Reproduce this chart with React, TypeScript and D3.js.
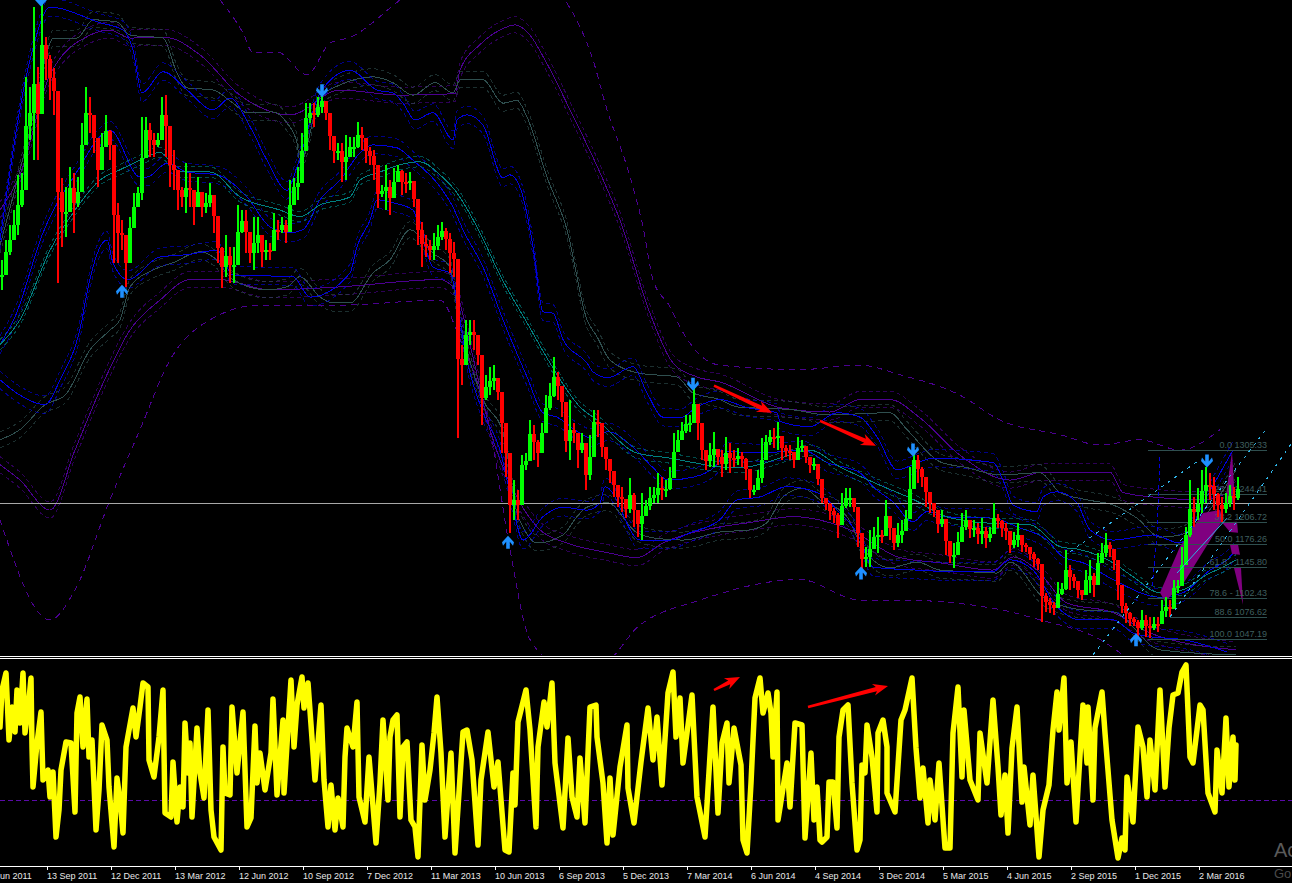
import * as d3 from 'd3';

const WIDTH = 1292;
const HEIGHT = 883;

// one candle per 4 bars, prices
const candleStep = 4;
const candleHigh = [
  1565,1592,1613,1633,1681,1684,1815,1801,1910,1828,1920,1869,1845,1827,1783,1677,1665,1692,1684,1678,
  1752,1801,1788,1752,1711,1738,1763,1742,1692,1643,1619,1592,1624,1656,1665,1760,1760,1752,1738,1738,
  1788,1790,1725,1715,1688,1665,1697,1684,1660,1678,1651,1656,1670,1647,1602,1583,1599,1583,1583,1640,
  1633,1633,1588,1624,1624,1596,1592,1588,1629,1619,1624,1619,1674,1677,1692,1738,1779,1779,1779,1788,
  1797,1774,1752,1729,1725,1725,1736,1733,1733,1753,1747,1729,1719,1715,1674,1667,1695,1674,1691,1695,
  1688,1684,1685,1660,1626,1617,1599,1592,1602,1613,1617,1609,1602,1589,1538,1449,1483,1483,1483,1449,
  1412,1408,1419,1421,1394,1383,1333,1268,1264,1251,1298,1301,1346,1339,1319,1342,1380,1397,1432,1412,
  1391,1333,1374,1342,1328,1328,1292,1326,1360,1360,1323,1309,1292,1274,1255,1255,1237,1267,1247,1223,
  1247,1237,1255,1255,1274,1268,1264,1282,1328,1333,1344,1353,1353,1391,1364,1319,1301,1315,1330,1305,
  1305,1323,1315,1305,1308,1303,1294,1260,1257,1278,1322,1326,1333,1335,1344,1323,1312,1312,1303,1323,
  1319,1303,1294,1294,1274,1247,1240,1233,1226,1219,1247,1253,1253,1234,1210,1176,1173,1196,1200,1214,
  1196,1237,1214,1186,1206,1210,1223,1282,1305,1298,1282,1268,1247,1233,1217,1223,1200,1169,1178,1193,
  1219,1223,1210,1210,1206,1212,1200,1200,1233,1217,1210,1206,1186,1193,1206,1185,1178,1171,1166,1158,
  1141,1110,1103,1098,1125,1124,1169,1148,1135,1125,1114,1141,1155,1137,1165,1178,1192,1180,1169,1141,
  1100,1096,1084,1077,1073,1087,1080,1077,1077,1077,1100,1104,1100,1128,1128,1173,1200,1264,1241,1253,
  1278,1282,1274,1268,1247,1241,1247,1257,1255,1268,
];
const candleLow = [
  1524,1558,1572,1592,1599,1637,1681,1729,1701,1701,1797,1811,1783,1763,1533,1583,1596,1633,1602,1637,
  1692,1729,1738,1711,1665,1701,1719,1701,1561,1561,1578,1528,1592,1619,1647,1647,1725,1706,1706,1719,
  1738,1706,1665,1660,1633,1637,1629,1637,1613,1637,1624,1629,1637,1602,1561,1527,1542,1533,1533,1565,
  1602,1574,1561,1551,1574,1555,1565,1565,1583,1592,1602,1588,1606,1651,1647,1688,1738,1752,1747,1760,
  1766,1756,1715,1697,1701,1671,1674,1706,1706,1718,1715,1697,1695,1674,1636,1651,1633,1626,1651,1678,
  1654,1656,1660,1637,1585,1555,1569,1565,1565,1578,1592,1578,1547,1542,1322,1394,1442,1449,1442,1421,
  1339,1374,1380,1387,1374,1301,1268,1192,1210,1210,1271,1278,1309,1292,1282,1316,1346,1360,1378,1374,
  1350,1303,1292,1315,1281,1301,1251,1264,1326,1323,1296,1278,1260,1241,1227,1221,1212,1219,1200,1186,
  1182,1219,1223,1233,1233,1237,1241,1251,1278,1305,1319,1328,1330,1346,1319,1292,1278,1282,1282,1285,
  1268,1278,1274,1282,1285,1282,1264,1240,1244,1255,1260,1305,1312,1308,1305,1292,1296,1292,1281,1292,
  1303,1288,1274,1278,1257,1233,1223,1210,1206,1185,1210,1226,1227,1221,1173,1137,1145,1145,1173,1165,
  1178,1192,1182,1169,1173,1178,1200,1223,1278,1260,1255,1227,1219,1214,1192,1200,1162,1151,1144,1166,
  1180,1196,1185,1186,1176,1176,1171,1180,1192,1199,1186,1182,1165,1171,1173,1166,1166,1155,1145,1141,
  1070,1084,1083,1080,1091,1107,1114,1114,1117,1103,1100,1114,1110,1104,1137,1151,1159,1159,1141,1100,
  1083,1069,1064,1064,1050,1059,1050,1048,1059,1057,1069,1077,1077,1104,1110,1124,1178,1186,1200,1210,
  1219,1233,1237,1223,1214,1207,1219,1227,1223,1237,
];

// envelope lines, [bar, price]
const midTeal = [[0,1449],[20,1483],[50,1578],[75,1633],[100,1674],[120,1688],[140,1701],[160,1712],[180,1685],[210,1685],[240,1651],[280,1633],[300,1624],[320,1640],[350,1651],[360,1674],[380,1685],[400,1695],[420,1699],[440,1681],[455,1660],[480,1602],[500,1544],[527,1479],[550,1424],[580,1364],[597,1346],[637,1301],[670,1294],[693,1288],[720,1282],[740,1281],[790,1298],[810,1305],[840,1282],[880,1257],[920,1233],[940,1217],[980,1206],[1030,1203],[1060,1173],[1080,1169],[1113,1151],[1133,1132],[1160,1110],[1183,1114],[1207,1135],[1223,1145],[1236,1155]];
const upperPurple = [[0,1633],[20,1681],[50,1818],[90,1872],[110,1879],[130,1868],[165,1869],[200,1845],[240,1790],[290,1763],[340,1797],[400,1790],[455,1792],[460,1824],[480,1859],[500,1879],[515,1886],[530,1872],[545,1838],[570,1770],[600,1684],[620,1619],[650,1492],[673,1424],[697,1405],[720,1398],[780,1363],[830,1357],[860,1374],[890,1374],[920,1349],[960,1298],[1010,1264],[1043,1275],[1110,1275],[1123,1247],[1160,1240],[1200,1237],[1236,1251]];
const upperBlue = [[0,1592],[30,1838],[50,1910],[100,1889],[123,1879],[133,1852],[142,1793],[163,1822],[187,1797],[213,1770],[230,1786],[250,1747],[267,1701],[287,1660],[297,1692],[320,1793],[350,1824],[377,1797],[393,1793],[403,1779],[415,1756],[433,1766],[453,1729],[457,1756],[467,1763],[483,1749],[503,1677],[510,1681],[522,1656],[533,1583],[543,1494],[553,1492],[563,1456],[587,1424],[593,1412],[608,1404],[633,1419],[647,1383],[663,1350],[680,1349],[697,1364],[720,1374],[747,1363],[777,1356],[780,1344],[810,1337],[837,1356],[860,1350],[877,1323],[897,1278],[920,1289],[933,1294],[993,1288],[1003,1264],[1013,1230],[1037,1221],[1043,1241],[1057,1248],[1077,1233],[1090,1196],[1113,1182],[1153,1189],[1180,1178],[1205,1237],[1233,1305]];
const midBlue = [[0,1449],[15,1487],[43,1602],[80,1692],[97,1729],[110,1742],[140,1678],[147,1678],[167,1697],[187,1685],[217,1681],[247,1651],[270,1610],[290,1602],[303,1606],[320,1647],[340,1674],[360,1711],[373,1722],[397,1718],[413,1701],[437,1670],[453,1637],[463,1606],[483,1555],[503,1483],[527,1405],[543,1356],[557,1350],[580,1328],[590,1322],[608,1330],[633,1309],[653,1281],[668,1264],[693,1268],[717,1285],[727,1303],[760,1301],[803,1305],[827,1288],[860,1274],[873,1255],[893,1234],[913,1207],[927,1221],[943,1214],[993,1212],[1017,1200],[1047,1182],[1063,1159],[1083,1151],[1113,1128],[1160,1104],[1183,1110],[1210,1141],[1227,1155],[1236,1169]];
const lowBlue = [[0,1401],[20,1380],[45,1367],[60,1401],[82,1483],[87,1520],[107,1592],[113,1561],[128,1538],[160,1569],[187,1572],[217,1578],[233,1544],[293,1542],[310,1514],[350,1547],[357,1583],[370,1619],[377,1647],[393,1643],[413,1633],[420,1606],[433,1555],[450,1547],[457,1510],[463,1456],[483,1356],[500,1305],[510,1247],[523,1182],[543,1214],[563,1227],[587,1223],[600,1233],[605,1255],[640,1182],[670,1182],[690,1192],[720,1210],[737,1237],[760,1241],[787,1255],[817,1247],[840,1219],[857,1192],[873,1145],[917,1141],[950,1139],[993,1139],[1010,1155],[1033,1141],[1057,1091],[1080,1073],[1113,1073],[1133,1055],[1150,1050],[1183,1046],[1227,1029]];
const upperGrey = [[0,1585],[30,1742],[50,1861],[53,1868],[77,1868],[93,1893],[117,1890],[130,1872],[163,1868],[177,1820],[187,1800],[213,1797],[233,1779],[247,1766],[273,1767],[287,1752],[297,1725],[300,1697],[320,1787],[340,1804],[360,1813],[373,1815],[393,1807],[413,1790],[435,1807],[453,1793],[460,1811],[483,1811],[503,1779],[517,1783],[527,1760],[547,1678],[567,1606],[587,1483],[597,1460],[610,1428],[640,1410],[677,1405],[693,1383],[720,1374],[737,1364],[793,1360],[827,1353],[890,1356],[907,1333],[940,1289],[967,1281],[1000,1271],[1040,1274],[1060,1247],[1087,1237],[1113,1230],[1137,1212],[1160,1186],[1180,1189],[1236,1278]];
const lowGrey = [[0,1319],[20,1333],[45,1367],[65,1380],[90,1442],[110,1469],[120,1483],[130,1528],[153,1551],[173,1561],[200,1576],[213,1569],[233,1538],[267,1524],[287,1528],[300,1542],[320,1514],[333,1506],[350,1506],[373,1547],[390,1565],[410,1606],[433,1574],[450,1555],[457,1501],[483,1374],[503,1329],[517,1219],[523,1200],[537,1178],[563,1189],[577,1214],[587,1227],[607,1233],[637,1192],[653,1185],[683,1182],[720,1193],[750,1196],[767,1206],[783,1241],[803,1253],[820,1237],[847,1214],[860,1178],[890,1144],[917,1152],[940,1141],[967,1139],[997,1137],[1010,1152],[1043,1104],[1080,1087],[1113,1084],[1160,1032],[1236,1025]];
const lowPurple = [[0,1285],[20,1264],[50,1223],[75,1305],[100,1387],[130,1469],[160,1510],[190,1538],[220,1538],[270,1524],[340,1528],[440,1538],[455,1524],[470,1449],[490,1333],[520,1233],[540,1196],[567,1178],[607,1165],[637,1158],[663,1178],[720,1200],[750,1206],[793,1214],[850,1196],[900,1158],[940,1151],[993,1141],[1013,1159],[1037,1141],[1067,1096],[1113,1083],[1150,1055],[1236,1032]];
const outerTop = [[220,1920],[243,1875],[253,1848],[277,1849],[307,1818],[330,1861],[350,1869],[400,1920],[440,1961],[530,1961],[565,1920],[593,1838],[607,1770],[627,1692],[643,1610],[653,1538],[670,1501],[680,1473],[700,1435],[720,1421],[800,1415],[860,1421],[900,1408],[960,1380],[1000,1346],[1060,1326],[1100,1312],[1140,1319],[1180,1305],[1220,1333]];
const outerBottom = [[0,1210],[50,1073],[75,1114],[110,1237],[140,1333],[170,1428],[210,1483],[260,1503],[340,1503],[440,1510],[460,1456],[490,1333],[510,1169],[530,1046],[560,1012],[600,1012],[640,1066],[700,1100],[800,1128],[860,1100],[900,1100],[1000,1087],[1040,1073],[1100,1046],[1130,1018]];

const bands = [
  { points: upperPurple, color: '#4b0090', spread: 11 },
  { points: lowPurple, color: '#4b0090', spread: 11 },
  { points: upperGrey, color: '#2f4f4f', spread: 11 },
  { points: lowGrey, color: '#2f4f4f', spread: 11 },
  { points: upperBlue, color: '#0000e0', spread: 12 },
  { points: midBlue, color: '#0000e0', spread: 12 },
  { points: lowBlue, color: '#0000e0', spread: 12 },
  { points: midTeal, color: '#008080', spread: 7 },
];

// fibonacci retracement
const fibLabels = ['0.0 1305.33', '23.6 1244.41', '38.2 1206.72', '50.0 1176.26', '61.8 - 1145.80', '78.6 - 1102.43', '88.6 1076.62', '100.0 1047.19'];
const fibPrices = [1305.33, 1244.41, 1206.72, 1176.26, 1145.8, 1102.43, 1076.62, 1047.19];
const fibStart = [1148, 1148, 1147, 1148, 1148, 1148, 1170, 1148];
const fibEnd = 1267;
const lastPrice = 1233;

// reversal arrows
const arrowBars = [41, 122, 322, 508, 693, 861, 913, 1136, 1207];
const arrowPrices = [1920, 1522, 1796, 1179, 1395, 1137, 1305, 1046, 1290];
const arrowDirs = [-1, 1, -1, 1, -1, 1, -1, 1, -1];

// drawn trend arrows
const priceArrows = [[[714,1393],[772,1356]], [[820,1345],[876,1311]]];
const oscArrows = [[[714,176],[740,189]], [[808,159],[888,180]]];

// dotted channel
const channelLines = [
  [[1093,1025],[1267,1335]],
  [[1170,1077],[1292,1315]],
  [[1070,1166],[1197,1289]],
];
const channelSolid = [[1177,1137],[1227,1212]];
const stepLine = [[1160,1296],[1157,1192],[1152,1114]];

// purple harmonic pattern
const patternShapes = [
  [[1160,1110],[1180,1173],[1203,1219],[1220,1223],[1223,1210],[1183,1122],[1165,1098]],
  [[1232,1303],[1225,1233],[1235,1233]],
  [[1222,1206],[1237,1207],[1238,1192],[1230,1193]],
  [[1230,1176],[1238,1176],[1240,1162],[1232,1163]],
  [[1234,1144],[1241,1144],[1243,1094]],
];

// oscillator, [bar, value]
const oscLevel = 65.5;
const oscA = [[0,139],[2,176],[6,193],[9,126],[12,159],[15,134],[17,176],[20,143],[23,193],[25,133],[28,156],[31,188],[32,119],[33,79],[37,123],[41,154],[43,86],[48,96],[50,69],[53,94],[56,29],[59,56],[61,96],[66,124],[71,123],[75,54],[77,153],[80,169],[83,119],[87,167],[89,109],[92,126],[96,36],[99,76],[102,141],[107,126],[109,79],[114,19],[117,88],[120,66],[123,33],[126,119],[133,158],[136,129],[140,159],[143,183],[148,179],[149,106],[154,89],[159,129],[163,176],[165,53],[171,49],[173,104],[177,44],[180,79],[183,59],[185,143],[188,93],[190,123],[192,49],[197,138],[200,93],[204,68],[208,156],[211,56],[214,29],[221,16],[223,119],[225,73],[230,71],[232,159],[237,93],[243,154],[247,39],[251,48],[255,140],[257,83],[260,113],[265,76],[271,113],[273,167],[277,71],[283,146],[284,73],[291,186],[294,119],[297,161],[302,189],[304,158],[308,183],[315,86],[321,161],[324,86],[328,39],[331,81],[335,36],[338,68],[343,39],[345,109],[347,138],[353,119],[357,164],[359,69],[365,44],[369,109],[376,23],[380,83],[383,146],[388,66],[390,129],[393,146],[397,151]];
const oscB = [[400,49],[403,119],[407,124],[411,46],[415,39],[418,9],[422,121],[425,66],[430,96],[434,133],[437,169],[441,113],[445,29],[451,113],[455,13],[463,134],[467,136],[472,106],[478,21],[481,86],[488,134],[494,79],[498,104],[505,16],[509,14],[513,93],[515,61],[518,144],[526,176],[530,136],[536,39],[538,119],[544,164],[547,139],[552,183],[555,103],[563,38],[568,128],[572,69],[577,49],[580,108],[585,43],[590,159],[596,161],[597,129],[603,83],[607,23],[610,88],[613,31],[620,99],[627,141],[628,78],[634,43],[641,104],[648,158],[653,106],[657,149],[662,81],[668,173],[673,194],[676,129],[680,168],[683,103],[692,171],[697,69],[705,29],[713,159],[718,53],[722,123],[727,143],[729,83],[734,138],[741,101],[743,26],[747,13],[751,83],[755,168],[760,188],[763,153],[768,173],[771,153],[773,109],[777,174],[778,46],[787,103],[790,59],[795,143],[802,141],[805,28],[811,113],[814,46],[817,79]];
const oscC = [[820,26],[822,24],[827,29],[829,84],[833,84],[837,38],[839,129],[843,156],[848,161],[852,83],[857,16],[860,26],[862,101],[865,93],[867,141],[872,109],[877,54],[878,133],[883,146],[887,119],[887,73],[895,54],[901,146],[905,156],[912,188],[916,118],[920,68],[923,98],[928,43],[930,86],[935,46],[939,103],[945,18],[950,18],[953,133],[958,179],[962,89],[964,156],[970,86],[978,66],[980,133],[987,83],[993,166],[998,99],[1001,51],[1005,91],[1008,33],[1012,118],[1017,159],[1022,64],[1024,99],[1030,41],[1033,91],[1039,9],[1043,56],[1049,81],[1053,136],[1057,174],[1059,136],[1064,188],[1067,83],[1071,124],[1076,44],[1083,161],[1087,103],[1088,159],[1093,66],[1095,138],[1102,174],[1105,133],[1112,46],[1118,8],[1122,28],[1125,16],[1127,89],[1133,44],[1138,139],[1143,119],[1147,69],[1150,126],[1155,76],[1160,176],[1165,79],[1169,138],[1173,171],[1178,173],[1182,194],[1186,201],[1190,109],[1193,103],[1200,161],[1203,156],[1208,73],[1215,54],[1217,116],[1222,73],[1226,148],[1229,79],[1233,129],[1235,86],[1236,121]];

const tickBars = [-17, 47, 111, 175, 239, 303, 367, 431, 495, 559, 623, 687, 751, 815, 879, 943, 1007, 1071, 1135, 1199];
const tickLabels = ['14 Jun 2011', '13 Sep 2011', '12 Dec 2011', '13 Mar 2012', '12 Jun 2012', '10 Sep 2012', '7 Dec 2012', '11 Mar 2013', '10 Jun 2013', '6 Sep 2013', '5 Dec 2013', '7 Mar 2014', '6 Jun 2014', '4 Sep 2014', '3 Dec 2014', '5 Mar 2015', '4 Jun 2015', '2 Sep 2015', '1 Dec 2015', '2 Mar 2016'];

const x = d3.scaleLinear().domain([0, WIDTH]).range([0, WIDTH]);
const y = d3.scaleLinear().domain([1920, 1025]).range([0, 655]);
const yOsc = d3.scaleLinear().domain([0, 206]).range([866, 660]);

const priceLine = d3.line<number[]>().x(d => x(d[0])).y(d => y(d[1]));
const bandLine = (spread: number) => d3.line<number[]>()
  .x(d => x(d[0]))
  .y(d => y(d[1] + spread))
  .curve(d3.curveMonotoneX);
const oscLine = d3.line<number[]>().x(d => x(d[0])).y(d => yOsc(d[1]));

const font = '"Liberation Sans", Arial, sans-serif';

function TrendArrow({ from, to }: { from: number[]; to: number[] }) {
  const angle = Math.atan2(to[1] - from[1], to[0] - from[0]);
  const len = Math.hypot(to[0] - from[0], to[1] - from[1]);
  return (
    <g transform={`translate(${from[0]},${from[1]}) rotate(${angle * 180 / Math.PI})`}>
      <path d={`M0,-1.2 L${len - 12},-2.2 L${len - 15},-6 L${len},0 L${len - 15},6 L${len - 12},2.2 L0,1.2 Z`} fill="#ff0000" />
    </g>
  );
}

export default function App() {
  const mids = candleHigh.map((h, i) => (h + candleLow[i]) / 2);
  return (
    <svg width={WIDTH} height={HEIGHT} style={{ position: 'fixed', left: 0, top: 0, background: '#000' }}>
      <defs>
        <clipPath id="main"><rect x={0} y={0} width={WIDTH} height={655} /></clipPath>
      </defs>
      <rect width={WIDTH} height={HEIGHT} fill="#000" />
      <g clipPath="url(#main)">
        <g shapeRendering="crispEdges">
          {bands.map((b, i) => (
            <g key={i} fill="none" stroke={b.color}>
              <path d={bandLine(b.spread)(b.points as number[][]) as string} strokeDasharray="4,3" opacity={0.6} />
              <path d={bandLine(-b.spread)(b.points as number[][]) as string} strokeDasharray="4,3" opacity={0.6} />
              <path d={bandLine(0)(b.points as number[][]) as string} />
            </g>
          ))}
          <path d={bandLine(0)(outerTop) as string} fill="none" stroke="#4b0090" strokeDasharray="6,5" />
          <path d={bandLine(0)(outerBottom) as string} fill="none" stroke="#4b0090" strokeDasharray="6,5" />
        </g>

        {patternShapes.map((s, i) => (
          <path key={i} d={(priceLine(s as number[][]) as string) + 'Z'} fill="#800080" />
        ))}

        <line x1={0} x2={WIDTH} y1={Math.round(y(lastPrice)) + 0.5} y2={Math.round(y(lastPrice)) + 0.5} stroke="#a8a8a8" strokeWidth={1} />

        {fibPrices.map((p, i) => (
          <g key={i}>
            <line x1={x(fibStart[i])} x2={x(fibEnd)} y1={Math.round(y(p)) + 0.5} y2={Math.round(y(p)) + 0.5} stroke="#2f4f4f" />
            <text x={x(fibEnd)} y={y(p) - 2} textAnchor="end" fontFamily={font} fontSize={9} fill="#3f5f5f">{fibLabels[i]}</text>
          </g>
        ))}

        {candleHigh.map((h, i) => {
          // open sits on the previous candle's close so neighbours join up
          const close = mids[i];
          const open = i === 0 ? mids[0] : mids[i - 1];
          const up = close >= open;
          const color = up ? '#00ff00' : '#ff0000';
          const px = x(i * candleStep + 1);
          const top = y(Math.max(h, open));
          const bottom = y(Math.min(candleLow[i], open));
          const bodyTop = y(Math.max(open, close));
          const bodyBottom = y(Math.min(open, close));
          return (
            <g key={i} shapeRendering="crispEdges">
              <rect x={px} y={top} width={2} height={bottom - top} fill={color} />
              <rect x={px - 1} y={bodyTop} width={4} height={Math.max(bodyBottom - bodyTop, 2)} fill={color} />
            </g>
          );
        })}

        {channelLines.map((c, i) => (
          <path key={i} d={priceLine(c as number[][]) as string} fill="none" stroke="#2fb4e8" strokeDasharray="3,5" shapeRendering="crispEdges" />
        ))}
        <path d={priceLine(channelSolid as number[][]) as string} fill="none" stroke="#2fb4e8" />
        <path d={priceLine(stepLine as number[][]) as string} fill="none" stroke="#0000e0" strokeDasharray="4,3" shapeRendering="crispEdges" />

        {arrowBars.map((b, i) => (
          <path
            key={i}
            transform={`translate(${x(b)},${y(arrowPrices[i])}) scale(1,${arrowDirs[i]})`}
            d="M0,-6.5 L6,0 L5,3.5 L1.8,-0.5 L1.8,6.5 L-1.8,6.5 L-1.8,-0.5 L-5,3.5 L-6,0 Z"
            fill="#1e90ff"
          />
        ))}

        {priceArrows.map((a, i) => (
          <TrendArrow key={i} from={[x(a[0][0]), y(a[0][1])]} to={[x(a[1][0]), y(a[1][1])]} />
        ))}
      </g>

      <line x1={0} x2={WIDTH} y1={656.5} y2={656.5} stroke="#fff" />
      <line x1={0} x2={WIDTH} y1={658.5} y2={658.5} stroke="#fff" />

      <line x1={0} x2={WIDTH} y1={yOsc(oscLevel)} y2={yOsc(oscLevel)} stroke="#5a0aa8" strokeDasharray="5,3" />
      <path
        d={oscLine([...oscA, ...oscB, ...oscC]) as string}
        fill="none"
        stroke="#ffff00"
        strokeWidth={5.5}
        strokeLinejoin="round"
        strokeLinecap="round"
      />
      {oscArrows.map((a, i) => (
        <TrendArrow key={i} from={[x(a[0][0]), yOsc(a[0][1])]} to={[x(a[1][0]), yOsc(a[1][1])]} />
      ))}

      <line x1={0} x2={WIDTH} y1={866.5} y2={866.5} stroke="#fff" />
      {tickBars.map((b, i) => (
        <g key={i}>
          <line x1={x(b) + 0.5} x2={x(b) + 0.5} y1={866} y2={870} stroke="#fff" />
          <text x={x(b)} y={879} fontFamily={font} fontSize={9} fill="#e8e8e8">{tickLabels[i]}</text>
        </g>
      ))}

      <text x={1274} y={857} fontFamily={font} fontSize={20} fill="#5a5a5a">Activate Windows</text>
      <text x={1274} y={878} fontFamily={font} fontSize={13} fill="#4a4a4a">Go to Settings to activate Windows.</text>
    </svg>
  );
}
